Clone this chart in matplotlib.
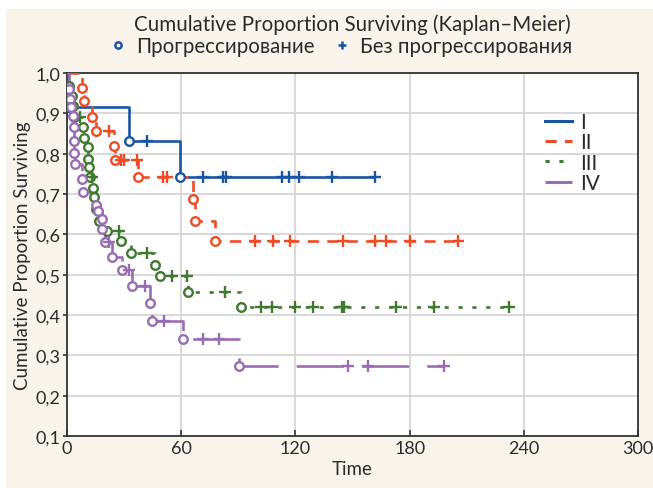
import matplotlib
matplotlib.use('Agg')
import matplotlib.pyplot as plt
from matplotlib.lines import Line2D
from matplotlib.patches import Rectangle

plt.rcParams['font.family'] = ['Lato', 'DejaVu Sans']
plt.rcParams['lines.scale_dashes'] = False

# ---------------- data ----------------
groups = ['I', 'II', 'III', 'IV']

# Group I
I_event_t = [0.3, 32.6, 59.5]
I_event_s = [0.915, 0.832, 0.741]
I_cens_t = [42.0, 71.6, 82.0, 83.6, 113.0, 116.6, 122.0, 139.0, 162.0]
I_cens_s = [0.832, 0.741, 0.741, 0.741, 0.741, 0.741, 0.741, 0.741, 0.741]

# Group II
II_event_t = [7.7, 8.9, 13.0, 15.0, 24.5, 25.0, 37.5, 66.0, 67.0, 78.0]
II_event_s = [0.963, 0.930, 0.891, 0.856, 0.820, 0.785, 0.742, 0.687, 0.633, 0.584]
II_cens_t = [22.0, 28.4, 30.0, 36.6, 50.5, 52.4, 98.8, 108.0, 117.0, 145.0, 162.0, 167.5, 180.0, 205.6]
II_cens_s = [0.856, 0.785, 0.785, 0.785, 0.742, 0.742, 0.584, 0.584, 0.584, 0.584, 0.584, 0.584, 0.584, 0.584]

# Group III
III_event_t = [1.2, 2.5, 3.0, 3.7, 8.5, 9.0, 10.8, 11.2, 11.5, 12.0, 13.5, 14.0, 15.2, 17.0,
               20.8, 28.2, 33.6, 46.0, 48.9, 63.7, 91.6]
III_event_s = [0.968, 0.942, 0.919, 0.890, 0.865, 0.839, 0.816, 0.788, 0.766, 0.741, 0.716, 0.692,
               0.664, 0.633, 0.609, 0.584, 0.553, 0.524, 0.496, 0.456, 0.419]
III_cens_t = [7.0, 13.0, 27.3, 41.9, 55.0, 63.2, 83.0, 102.0, 107.6, 119.8, 129.0, 144.4, 145.7,
              173.0, 193.0, 232.0]
III_cens_s = [0.890, 0.741, 0.609, 0.553, 0.496, 0.496, 0.456, 0.419, 0.419, 0.419, 0.419, 0.419,
              0.419, 0.419, 0.419, 0.419]

# Group IV
IV_event_t = [1.2, 1.5, 2.3, 3.3, 3.5, 3.7, 3.9, 4.2, 7.7, 8.2, 15.0, 16.5, 18.2, 18.5, 20.0,
              23.5, 28.7, 34.0, 43.6, 44.8, 61.1, 90.5]
IV_event_s = [0.960, 0.935, 0.915, 0.894, 0.867, 0.832, 0.801, 0.774, 0.737, 0.705, 0.672, 0.658,
              0.639, 0.613, 0.581, 0.545, 0.512, 0.472, 0.429, 0.385, 0.340, 0.274]
IV_cens_t = [22.0, 32.7, 41.0, 51.0, 71.3, 80.0, 147.5, 158.3, 198.0]
IV_cens_s = [0.581, 0.512, 0.472, 0.385, 0.340, 0.340, 0.274, 0.274, 0.274]

x_ticks = [0, 60, 120, 180, 240, 300]
y_ticks = [0.1, 0.2, 0.3, 0.4, 0.5, 0.6, 0.7, 0.8, 0.9, 1.0]
y_ticklabels = ['0,1', '0,2', '0,3', '0,4', '0,5', '0,6', '0,7', '0,8', '0,9', '1,0']

title_text = 'Cumulative Proportion Surviving (Kaplan\u2013Meier)'
event_label = '\u041f\u0440\u043e\u0433\u0440\u0435\u0441\u0441\u0438\u0440\u043e\u0432\u0430\u043d\u0438\u0435'
cens_label = '\u0411\u0435\u0437 \u043f\u0440\u043e\u0433\u0440\u0435\u0441\u0441\u0438\u0440\u043e\u0432\u0430\u043d\u0438\u044f'
x_label = 'Time'
y_label = 'Cumulative Proportion Surviving'

data = {
    'I': (I_event_t, I_event_s, I_cens_t, I_cens_s),
    'II': (II_event_t, II_event_s, II_cens_t, II_cens_s),
    'III': (III_event_t, III_event_s, III_cens_t, III_cens_s),
    'IV': (IV_event_t, IV_event_s, IV_cens_t, IV_cens_s),
}

colors = {'I': '#1a55a5', 'II': '#ef4c26', 'III': '#3e7b2f', 'IV': '#9a6db3'}
dashes = {'I': None, 'II': (0, (8, 6)), 'III': (0, (3, 7)), 'IV': (0, (34, 13))}

# ---------------- figure ----------------
W, H = 653, 489
fig = plt.figure(figsize=(W / 100, H / 100), dpi=100)
fig.patch.set_facecolor('white')
fig.add_artist(Rectangle((6 / W, 0), 1 - 6 / W, 1 - 10 / H, transform=fig.transFigure,
                         facecolor='#f8f4ec', edgecolor='none', zorder=-10))

ax = fig.add_axes([67 / W, (H - 437) / H, (638 - 67) / W, (437 - 74) / H])
ax.set_facecolor('white')

text_color = '#2b2b2b'

handles = []
for g in groups:
    et, es, ct, cs = data[g]
    end_t = max(ct + et)
    tt = [0.0] + list(et) + [end_t]
    ss = [1.0] + list(es) + [es[-1]]
    ls = '-' if dashes[g] is None else dashes[g]
    ax.step(tt, ss, where='post', color=colors[g], lw=1.9, linestyle=ls, zorder=3,
            solid_capstyle='butt', dash_capstyle='butt')
    ax.plot(et, es, linestyle='none', marker='o', ms=6.2, mfc='white', mec=colors[g], mew=1.7,
            zorder=4)
    ax.plot(ct, cs, linestyle='none', marker='+', ms=8, mec=colors[g], mew=1.7, zorder=4)
    handles.append(Line2D([], [], color=colors[g], lw=2.2, linestyle=ls))

ax.set_xlim(0, 300)
ax.set_ylim(0.1, 1.0)
ax.set_xticks(x_ticks)
ax.set_xticklabels([str(v) for v in x_ticks])
ax.set_yticks(y_ticks)
ax.set_yticklabels(y_ticklabels)
ax.grid(True, color='#d6d6d6', lw=1.3, zorder=0)
ax.set_axisbelow(True)
for s in ax.spines.values():
    s.set_color('#333333')
    s.set_linewidth(1.3)
ax.tick_params(axis='x', direction='in', length=4, width=1.2, color='#333333',
               labelsize=13, labelcolor=text_color, pad=3)
ax.tick_params(axis='y', direction='out', length=3, width=1.2, color='#333333',
               labelsize=13, labelcolor=text_color, pad=2)

ax.set_xlabel(x_label, fontsize=13.5, color=text_color, labelpad=3)
ax.set_ylabel(y_label, fontsize=13.5, color=text_color, labelpad=3)

leg = ax.legend(handles, groups, loc='upper left', bbox_to_anchor=(0.838, 0.893),
                frameon=False, fontsize=15, handlelength=1.25, handletextpad=0.4,
                labelspacing=0.02, borderpad=0.0, borderaxespad=0.0)
for t in leg.get_texts():
    t.set_color(text_color)

# top legend
fig.text(352 / W, 1 - 25 / H, title_text, ha='center', va='center', fontsize=14.8,
         color=text_color)
mk_handles = [Line2D([], [], linestyle='none', marker='o', ms=4.5, mfc='white', mec=colors['I'], mew=1.8),
              Line2D([], [], linestyle='none', marker='+', ms=6, mec=colors['I'], mew=1.8)]
fleg = fig.legend(mk_handles, [event_label, cens_label], loc='center', ncol=2,
                  bbox_to_anchor=(341 / W, 1 - 47 / H), frameon=False, fontsize=14.8,
                  handlelength=0.8, handletextpad=0.5, columnspacing=0.9)
for t in fleg.get_texts():
    t.set_color(text_color)

fig.savefig('out.png', dpi=100, facecolor=fig.get_facecolor())
